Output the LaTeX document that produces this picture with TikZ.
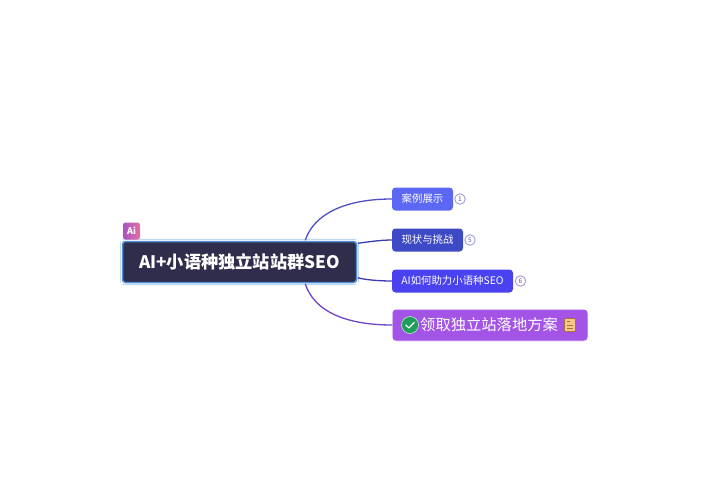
\documentclass[tikz,border=0pt]{standalone}
\usepackage{fontspec}
\setmainfont{Noto Sans CJK SC}
\usetikzlibrary{shadows,calc}
\definecolor{rootbg}{HTML}{2F2C4C}
\definecolor{rootline}{HTML}{4F8FD8}
\definecolor{boxa}{HTML}{5C68F4}
\definecolor{boxb}{HTML}{3E49C6}
\definecolor{boxc}{HTML}{4A42F0}
\definecolor{boxd}{HTML}{A354E6}
\definecolor{linka}{HTML}{4F50C6}
\definecolor{linkb}{HTML}{3B3CB0}
\definecolor{linkd}{HTML}{7046C8}
\definecolor{badgec}{HTML}{9C9CD8}
\definecolor{aipink}{HTML}{E56FA0}
\definecolor{aiviolet}{HTML}{A854C4}
\definecolor{okgreen}{HTML}{1F9E58}
\definecolor{notefill}{HTML}{F6C987}
\definecolor{noteline}{HTML}{A8703A}
\tikzset{
  x=1pt,y=-1pt,
  rootnode/.style={draw=rootline,line width=1.5pt,fill=rootbg,rounded corners=3pt,minimum width=234pt,minimum height=41pt,inner sep=0pt,text=white,font=\fontsize{17.2}{20}\selectfont\bfseries},
  branch/.style={rounded corners=3.5pt,minimum height=23pt,inner sep=0pt,text=white,font=\fontsize{10.4}{12}\selectfont},
  badge/.style={circle,draw=badgec,line width=.9pt,fill=white,minimum size=10.5pt,inner sep=0pt,text=linka,font=\fontsize{6.5}{7}\selectfont},
  link/.style={line width=1.3pt,draw=linka},
  softshadow/.style={drop shadow={shadow xshift=0pt,shadow yshift=-1.2pt,opacity=.22,fill=boxd}},
}
\begin{document}
\begin{tikzpicture}
\useasboundingbox (0,0) rectangle (725,490);
\fill[white] (0,0) rectangle (725,490);
\node[rootnode] (root) at (239.5,262) {\raisebox{-1pt}{AI+小语种独立站站群SEO}};
\draw[rootline!35,line width=.9pt,rounded corners=4pt] ($(root.north west)+(-1.4,-1.4)$) rectangle ($(root.south east)+(1.4,1.4)$);
\node[branch,fill=boxa,minimum width=61pt] (a) at (422.5,199) {\raisebox{-.7pt}{案例展示}};
\node[branch,fill=boxb,minimum width=71pt] (b) at (427.5,240) {\raisebox{-.7pt}{现状与挑战}};
\node[branch,fill=boxc,minimum width=121pt] (c) at (452.5,281) {\raisebox{-.7pt}{AI如何助力小语种SEO}};
\node[branch,fill=boxd,softshadow,minimum width=195pt,minimum height=31pt] (d) at (490,325) {};
\node[text=white,font=\fontsize{15.3}{18}\selectfont,anchor=west,inner sep=0pt] (dt) at (420,325) {领取独立站落地方案};
\node[circle,fill=okgreen,draw=white!75!okgreen,line width=.6pt,minimum size=17pt,inner sep=0pt] (ok) at (410,325) {};
\draw[white,line width=1.2pt,line cap=round,line join=round] (405.8,325) -- (408.9,328) -- (414.3,322.4);
\node[draw=noteline,fill=notefill,minimum width=11pt,minimum height=13pt,inner sep=0pt,rounded corners=.8pt,line width=.7pt] (note) at (570,325) {};
\draw[noteline,line width=.9pt] (566.8,321.5) -- (570,321.5) (566.8,325) -- (573,325) (566.8,328.5) -- (573,328.5);
\node[badge] (ba) at (460,199) {1};
\node[badge] (bb) at (470,240) {5};
\node[badge] (bc) at (520.5,281) {6};
\node[rounded corners=2.5pt,minimum size=17pt,inner sep=0pt,text=white,font=\fontsize{9}{10}\selectfont\bfseries,path picture={\shade[left color=aiviolet,right color=aipink] (path picture bounding box.south west) rectangle (path picture bounding box.north east);}] (ai) at (131.5,231) {Ai};
\coordinate (rt) at ($(root.north east)+(-52,-.5)$);
\coordinate (rb) at ($(root.south east)+(-52,.5)$);
\coordinate (rr1) at ($(root.north east)+(.5,2.5)$);
\coordinate (rr2) at ($(root.south east)+(.5,-5.5)$);
\draw[link] (rt) .. controls (314,214) and (345,199) .. (a.west);
\draw[link,draw=linkb] (rr1) .. controls (368,242) and (380,240) .. (b.west);
\draw[link,draw=linkb] (rr2) .. controls (366,280) and (380,281) .. (c.west);
\draw[link,draw=linkd] (rb) .. controls (314,311) and (345,325) .. (d.west);
\foreach \c in {north west,north east,south west,south east}
  \fill[white] (root.\c) circle (1.1pt);
\end{tikzpicture}
\end{document}
